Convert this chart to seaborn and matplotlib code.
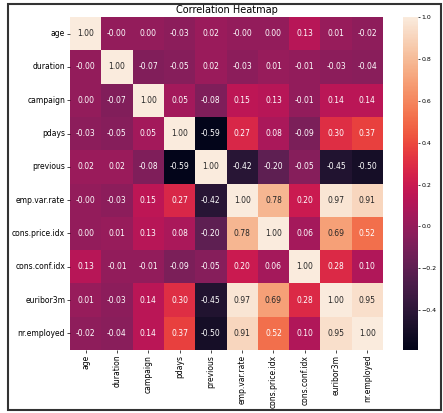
import numpy as np
import pandas as pd
import matplotlib
matplotlib.use("Agg")
import matplotlib.pyplot as plt
import seaborn as sns
from matplotlib.patches import Rectangle

labels = ["age", "duration", "campaign", "pdays", "previous", "emp.var.rate",
          "cons.price.idx", "cons.conf.idx", "euribor3m", "nr.employed"]

age            = [1.00, -0.00, 0.00, -0.03, 0.02, -0.00, 0.00, 0.13, 0.01, -0.02]
duration       = [-0.00, 1.00, -0.07, -0.05, 0.02, -0.03, 0.01, -0.01, -0.03, -0.04]
campaign       = [0.00, -0.07, 1.00, 0.05, -0.08, 0.15, 0.13, -0.01, 0.14, 0.14]
pdays          = [-0.03, -0.05, 0.05, 1.00, -0.59, 0.27, 0.08, -0.09, 0.30, 0.37]
previous       = [0.02, 0.02, -0.08, -0.59, 1.00, -0.42, -0.20, -0.05, -0.45, -0.50]
emp_var_rate   = [-0.00, -0.03, 0.15, 0.27, -0.42, 1.00, 0.78, 0.20, 0.97, 0.91]
cons_price_idx = [0.00, 0.01, 0.13, 0.08, -0.20, 0.78, 1.00, 0.06, 0.69, 0.52]
cons_conf_idx  = [0.13, -0.01, -0.01, -0.09, -0.05, 0.20, 0.06, 1.00, 0.28, 0.10]
euribor3m      = [0.01, -0.03, 0.14, 0.30, -0.45, 0.97, 0.69, 0.28, 1.00, 0.95]
nr_employed    = [-0.02, -0.04, 0.14, 0.37, -0.50, 0.91, 0.52, 0.10, 0.95, 1.00]

corr = pd.DataFrame([age, duration, campaign, pdays, previous, emp_var_rate,
                     cons_price_idx, cons_conf_idx, euribor3m, nr_employed],
                    index=labels, columns=labels)

fig = plt.figure(figsize=(4.43, 4.13), dpi=100)
ax = fig.add_axes([70/443, 63/413, 313/443, 333/413])
cax = fig.add_axes([403/443, 63/413, 15/443, 333/413])

sns.heatmap(corr, annot=True, fmt=".2f", cmap="rocket", ax=ax, cbar_ax=cax,
            annot_kws={"fontsize": 5.5})
ax.set_title("Correlation Heatmap", fontsize=7, pad=3)
ax.tick_params(axis="both", labelsize=5.5, length=2, width=0.5, pad=1.5)
ax.set_xticklabels(labels, rotation=90)
ax.set_yticklabels(labels, rotation=0)
cax.tick_params(labelsize=4.5, length=1.5, width=0.5, pad=1)
for s in cax.spines.values():
    s.set_visible(False)

fig.patches.append(Rectangle((8/443, 3/413), 433/443, 406/413, transform=fig.transFigure,
                             fill=False, edgecolor="#333333", linewidth=1.5))

fig.savefig("out.png", dpi=100)
